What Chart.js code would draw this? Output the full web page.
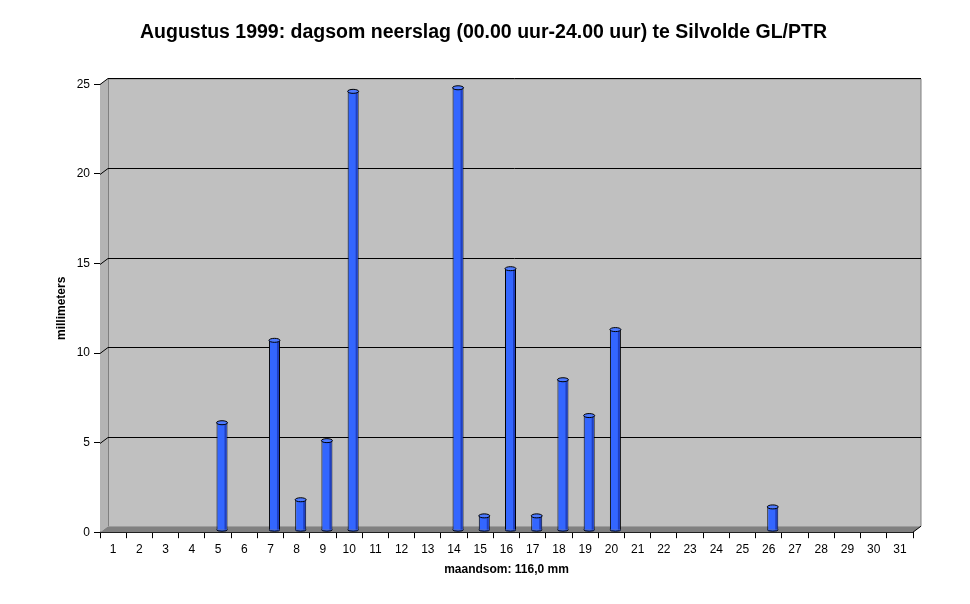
<!DOCTYPE html>
<html>
<head>
<meta charset="utf-8">
<script src="https://cdn.jsdelivr.net/npm/chart.js@4/dist/chart.umd.min.js"></script>
<style>
  html, body { margin: 0; padding: 0; background: #fff; }
  #wrap { width: 970px; height: 604px; }
</style>
</head>
<body>
<div id="wrap"><canvas id="chart"></canvas></div>
<script>
// dagen van de maand
const days = Array.from({ length: 31 }, (_, i) => String(i + 1));

// neerslag per dag (mm)
const rain = [
  0, 0, 0, 0, 6.0, 0, 10.6, 1.7, 5.0, 24.5,
  0, 0, 0, 24.7, 0.8, 14.6, 0.8, 8.4, 6.4, 11.2,
  0, 0, 0, 0, 0, 1.3, 0, 0, 0, 0, 0,
];

const yTicks = [0, 5, 10, 15, 20, 25];

const DX = 8, DY = 6; // diepte van de 3d-wand
const BX = 4, BY = -2; // cilinders staan halverwege de diepte

// grijze achterwand, zijwand, bodem en rasterlijnen
const wallPlugin = {
  id: "wall",
  beforeDatasetsDraw(chart) {
    const { ctx, chartArea: a, scales } = chart;
    const y = scales.y;
    ctx.save();
    // achterwand
    ctx.fillStyle = "#c0c0c0";
    ctx.fillRect(a.left + DX, a.top - DY, a.right - a.left, a.bottom - a.top);
    // zijwand
    ctx.beginPath();
    ctx.moveTo(a.left, a.top);
    ctx.lineTo(a.left + DX, a.top - DY);
    ctx.lineTo(a.left + DX, a.bottom - DY);
    ctx.lineTo(a.left, a.bottom);
    ctx.closePath();
    ctx.fillStyle = "#b4b4b4";
    ctx.fill();
    ctx.strokeStyle = "#808080";
    ctx.lineWidth = 1;
    ctx.beginPath();
    ctx.moveTo(a.left + DX + 0.5, a.top - DY);
    ctx.lineTo(a.left + DX + 0.5, a.bottom - DY);
    ctx.stroke();
    ctx.beginPath();
    ctx.moveTo(a.left + DX, a.top - DY + 0.5);
    ctx.lineTo(a.right + DX, a.top - DY + 0.5);
    ctx.lineTo(a.right + DX, a.bottom - DY);
    ctx.stroke();
    // rasterlijnen
    ctx.strokeStyle = "#000";
    yTicks.forEach((v) => {
      if (v === 0) return;
      const py = Math.round(y.getPixelForValue(v)) + 0.5;
      ctx.beginPath();
      ctx.moveTo(a.left, py);
      ctx.lineTo(a.left + DX, py - DY);
      ctx.lineTo(a.right + DX, py - DY);
      ctx.stroke();
    });
    // bodem
    ctx.beginPath();
    ctx.moveTo(a.left, a.bottom);
    ctx.lineTo(a.left + DX, a.bottom - DY);
    ctx.lineTo(a.right + DX, a.bottom - DY);
    ctx.lineTo(a.right, a.bottom);
    ctx.closePath();
    ctx.fillStyle = "#808080";
    ctx.fill();
    ctx.strokeStyle = "#000";
    ctx.beginPath();
    ctx.moveTo(a.right, a.bottom);
    ctx.lineTo(a.right + DX, a.bottom - DY);
    ctx.stroke();
    ctx.restore();
  },
};

// cilinders: iets naar achteren, donkere rand rechts en een ellips bovenop
const cylinderPlugin = {
  id: "cylinder",
  beforeDatasetDraw(chart) {
    chart.ctx.save();
    chart.ctx.translate(BX, BY);
  },
  afterDatasetDraw(chart) {
    const { ctx } = chart;
    const meta = chart.getDatasetMeta(0);
    meta.data.forEach((bar, i) => {
      if (!rain[i]) return;
      const { x, y, width, base } = bar.getProps(["x", "y", "width", "base"], true);
      ctx.fillStyle = "#1f3fc0";
      ctx.fillRect(x + width / 2 - 3, y, 2, base - y);
      ctx.beginPath();
      ctx.ellipse(x, base, width / 2, 1.5, 0, 0, Math.PI);
      ctx.fillStyle = "#3366ff";
      ctx.fill();
      ctx.strokeStyle = "#000";
      ctx.lineWidth = 1;
      ctx.stroke();
      ctx.beginPath();
      ctx.ellipse(x, y, width / 2, 2, 0, 0, Math.PI * 2);
      ctx.fillStyle = "#4d7aff";
      ctx.fill();
      ctx.stroke();
    });
    ctx.restore();
  },
};

new Chart(document.getElementById("chart"), {
  type: "bar",
  data: {
    labels: days,
    datasets: [
      {
        label: "neerslag",
        data: rain,
        backgroundColor: "#3366ff",
        borderColor: "#000",
        borderWidth: { left: 1, right: 1, top: 0, bottom: 0 },
        borderSkipped: false,
        barPercentage: 0.42,
        categoryPercentage: 1,
      },
    ],
  },
  options: {
    responsive: true,
    maintainAspectRatio: false,
    animation: false,
    devicePixelRatio: 1,
    layout: { padding: { left: 54, right: 57, top: 0, bottom: 27 } },
    plugins: {
      legend: { display: false },
      tooltip: { enabled: false },
      title: {
        display: true,
        text: "Augustus 1999: dagsom neerslag (00.00 uur-24.00 uur) te Silvolde GL/PTR",
        color: "#000",
        font: { family: "Arial, 'Liberation Sans', sans-serif", size: 19.5, weight: "bold" },
        padding: { top: 21, bottom: 40 },
      },
    },
    scales: {
      x: {
        offset: true,
        grid: { display: true, drawOnChartArea: false, drawTicks: true, tickLength: 6, color: "#000", offset: true },
        border: { display: true, color: "#000" },
        ticks: {
          color: "#000",
          padding: 4,
          maxRotation: 0,
          autoSkip: false,
          font: { family: "Arial, 'Liberation Sans', sans-serif", size: 12 },
        },
        title: {
          display: true,
          text: "maandsom: 116,0 mm",
          color: "#000",
          padding: { top: 2, bottom: 0 },
          font: { family: "Arial, 'Liberation Sans', sans-serif", size: 12, weight: "bold" },
        },
      },
      y: {
        min: 0,
        max: 25,
        afterBuildTicks(scale) {
          scale.ticks = yTicks.map((v) => ({ value: v }));
        },
        afterFit(scale) {
          scale.width = 46;
        },
        grid: { display: true, drawOnChartArea: false, drawTicks: true, tickLength: 6, color: "#000" },
        border: { display: true, color: "#000" },
        ticks: {
          color: "#000",
          padding: 4,
          font: { family: "Arial, 'Liberation Sans', sans-serif", size: 12 },
        },
        title: {
          display: true,
          text: "millimeters",
          color: "#000",
          padding: { top: 0, bottom: 16 },
          font: { family: "Arial, 'Liberation Sans', sans-serif", size: 12, weight: "bold" },
        },
      },
    },
  },
  plugins: [wallPlugin, cylinderPlugin],
});
</script>
</body>
</html>
